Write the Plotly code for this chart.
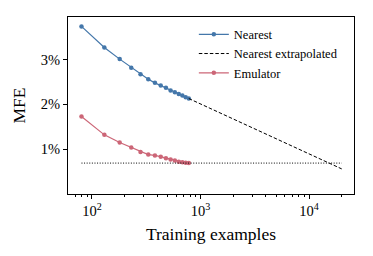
import plotly.graph_objects as go

# Data (MFE in percent)
train_n = [80, 130, 180, 230, 280, 330, 380, 430, 480, 530, 580, 630, 680, 730, 780]
nearest = [3.74, 3.27, 3.01, 2.82, 2.67, 2.56, 2.48, 2.42, 2.37, 2.31, 2.27, 2.23, 2.20, 2.16, 2.13]
emulator = [1.73, 1.32, 1.15, 1.04, 0.94, 0.88, 0.86, 0.83, 0.80, 0.77, 0.75, 0.72, 0.71, 0.70, 0.69]
extrap_n = [780, 20000]
extrap_mfe = [2.13, 0.56]
floor_n = [80, 20000]
floor_mfe = [0.69, 0.69]

x_tickvals = [100, 1000, 10000]
x_ticktext = ["10<sup>2</sup>", "10<sup>3</sup>", "10<sup>4</sup>"]
y_tickvals = [1, 2, 3]
y_ticktext = ["1%", "2%", "3%"]

BLUE = "#4477AA"
RED = "#CC6677"
FONT = "Liberation Serif"

fig = go.Figure()
fig.add_trace(go.Scatter(x=train_n, y=nearest, mode="lines+markers", name="Nearest",
                         line=dict(color=BLUE, width=1.2), marker=dict(color=BLUE, size=4.5)))
fig.add_trace(go.Scatter(x=extrap_n, y=extrap_mfe, mode="lines", name="Nearest extrapolated",
                         line=dict(color="black", width=1, dash="3.5px,2px")))
fig.add_trace(go.Scatter(x=train_n, y=emulator, mode="lines+markers", name="Emulator",
                         line=dict(color=RED, width=1.2), marker=dict(color=RED, size=4.5)))
fig.add_trace(go.Scatter(x=floor_n, y=floor_mfe, mode="lines", showlegend=False,
                         line=dict(color="black", width=1, dash="1px,1.6px")))

# page body has an 8px margin; compensate so the plot area lands where the reference has it
fig.update_layout(
    width=365, height=248,
    margin=dict(l=60, r=19, t=9, b=62, autoexpand=False),
    paper_bgcolor="white", plot_bgcolor="white",
    font=dict(family=FONT, color="black", size=14),
    legend=dict(x=0.44, y=0.985, xanchor="left", yanchor="top",
                font=dict(family=FONT, size=12.5), bgcolor="rgba(0,0,0,0)",
                tracegroupgap=0, itemwidth=30),
    showlegend=True,
)
fig.update_xaxes(
    type="log", range=[1.779, 4.414],
    tickvals=x_tickvals, ticktext=x_ticktext,
    ticks="outside", ticklen=4, tickwidth=1, tickcolor="black",
    minor=dict(ticks="outside", ticklen=2, tickwidth=0.8, tickcolor="black", dtick="D1", showgrid=False),
    showline=True, linecolor="black", linewidth=1, mirror=True,
    showgrid=False, zeroline=False,
    title=dict(text="Training examples", font=dict(size=17.5, family=FONT), standoff=9),
    tickfont=dict(size=14.5, family=FONT),
)
fig.update_yaxes(
    range=[0, 3.95],
    tickvals=y_tickvals, ticktext=y_ticktext,
    ticks="outside", ticklen=4, tickwidth=1, tickcolor="black",
    showline=True, linecolor="black", linewidth=1, mirror=True,
    showgrid=False, zeroline=False,
    title=dict(text="MFE", font=dict(size=17.5, family=FONT), standoff=10),
    tickfont=dict(size=14.5, family=FONT),
)

fig.write_html("out.html")
